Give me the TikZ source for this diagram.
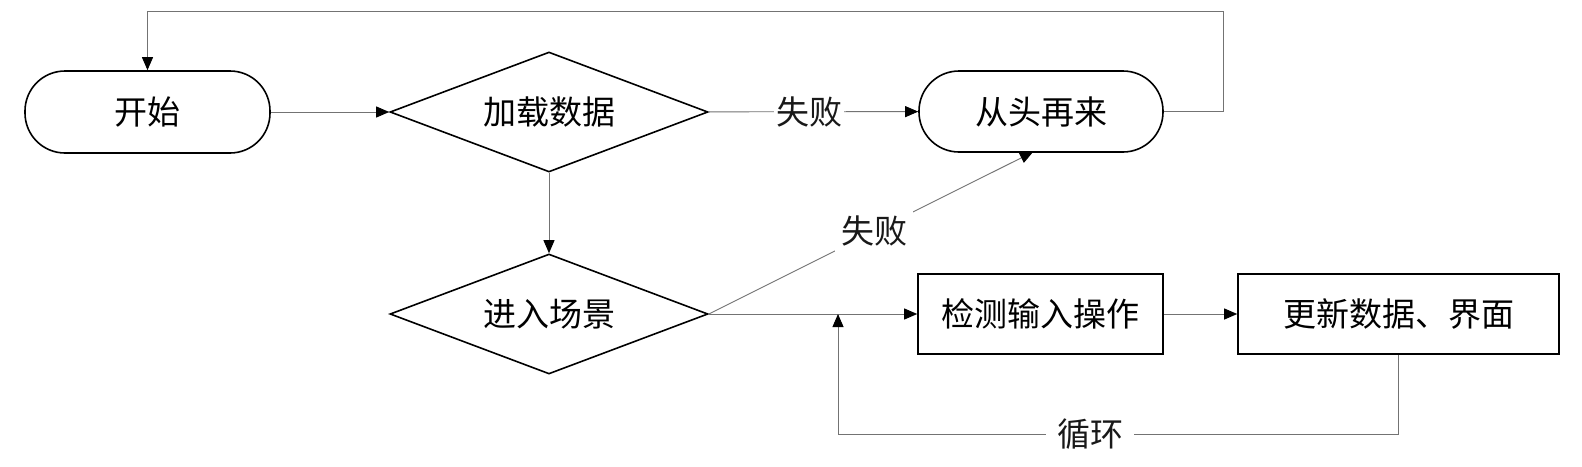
\documentclass[tikz,border=0pt]{standalone}
\usepackage{fontspec}
\setmainfont{Noto Sans CJK SC}
\usetikzlibrary{shapes.geometric,arrows.meta}
\begin{document}
\begin{tikzpicture}[x=1pt,y=-1pt,
  font=\fontsize{33pt}{38pt}\selectfont,
  term/.style={draw=black,line width=1.6pt,rectangle,rounded corners=40pt,inner sep=0pt},
  dec/.style={draw=black,line width=1.6pt,diamond,aspect=2.65,inner sep=0pt,minimum width=318pt,minimum height=120pt},
  proc/.style={draw=black,line width=1.6pt,rectangle,inner sep=0pt,minimum height=80pt},
  conn/.style={draw=black!55,line width=0.9pt,-{Triangle[length=13pt,width=11pt,color=black]}},
  plain/.style={draw=black!55,line width=0.9pt},
  lab/.style={fill=white,inner sep=2pt,text=black!90}]
\useasboundingbox (0,0) rectangle (1582,466);
\fill[white] (0,0) rectangle (1582,466);
\node[term,minimum width=245pt,minimum height=82pt] (start) at (147.5,112) {开始};
\node[dec] (load) at (549,112) {加载数据};
\node[term,minimum width=244pt,minimum height=81pt] (retry) at (1041,111.5) {从头再来};
\node[dec] (enter) at (549,314) {进入场景};
\node[proc,minimum width=245pt] (detect) at (1040.5,314) {检测输入操作};
\node[proc,minimum width=321pt] (update) at (1398.5,314) {更新数据、界面};
\coordinate (loopR) at (1223,11);
\coordinate (loopL) at (147.5,11);
\coordinate (retryIn) at (1033,152);
\coordinate (cycJoin) at (838,314);
\coordinate (cycBL) at (838,434);
\coordinate (cycBR) at (update.south |- cycBL);
\draw[conn] (start) -- (load);
\draw[conn] (load) -- node[lab,pos=0.48]{失败} (retry);
\draw[conn] (load) -- (enter);
\draw[conn] (enter.east) -- node[lab,pos=0.51,inner sep=6pt]{失败} (retryIn);
\draw[conn] (enter.east) -- (detect);
\draw[conn] (detect) -- (update);
\draw[conn] (retry.east) -- (loopR |- retry.east) -- (loopR) -- (loopL) -- (start.north);
\draw[plain] (update.south) -- (cycBR) -- node[lab,pos=0.55,inner xsep=11pt]{循环} (cycBL);
\draw[conn] (cycBL) -- (cycJoin);
\end{tikzpicture}
\end{document}
